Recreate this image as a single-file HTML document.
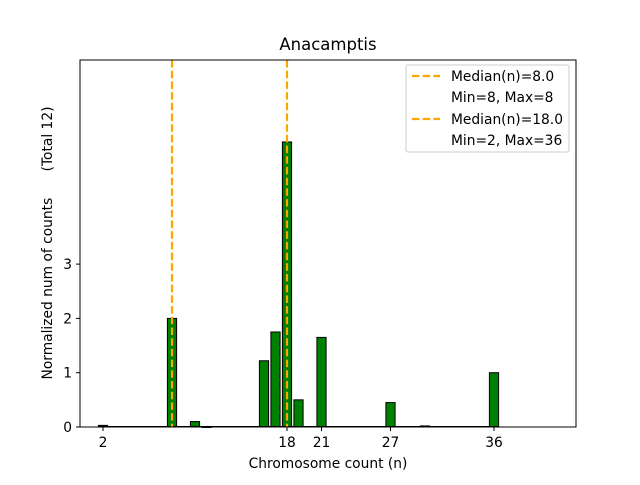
<!DOCTYPE html>
<html><head><meta charset="utf-8"><style>
body{margin:0;background:#fff}
svg text{font-family:"DejaVu Sans","Liberation Sans",sans-serif;}
</style></head><body>
<svg id="c" width="640" height="480" xmlns="http://www.w3.org/2000/svg">
<rect width="640" height="480" fill="#fff"/>
<text x="328" y="50" font-size="16.5" text-anchor="middle">Anacamptis</text>
<g id="bars"></g>
<g id="medians"></g>
<rect x="80" y="60" width="496" height="367" fill="none" stroke="#000" stroke-width="1"/>
<g id="xt"></g>
<g id="yt"></g>
<text x="328" y="468" font-size="13.8" text-anchor="middle">Chromosome count (n)</text>
<text transform="translate(52,243) rotate(-90)" font-size="13.8" text-anchor="middle" style="white-space:pre">Normalized num of counts      (Total 12)</text>
<g>
<rect x="406" y="65" width="163" height="87" fill="#fff" stroke="#ccc" rx="2"/>
<line x1="412" y1="76" x2="440" y2="76" stroke="#ffa500" stroke-width="2.2" stroke-dasharray="7.5,3.2"/>
<text x="451" y="81" font-size="13.8">Median(n)=8.0</text>
<text x="451" y="102" font-size="13.8">Min=8, Max=8</text>
<line x1="412" y1="119" x2="440" y2="119" stroke="#ffa500" stroke-width="2.2" stroke-dasharray="7.5,3.2"/>
<text x="451" y="124" font-size="13.8">Median(n)=18.0</text>
<text x="451" y="145" font-size="13.8">Min=2, Max=36</text>
</g>
</svg>
<script>
const binN=[2,3,4,5,6,7,8,9,10,11,12,13,14,15,16,17,18,19,20,21,22,23,24,25,26,27,28,29,30,31,32,33,34,35,36];
const binVals=[0.03,0,0,0,0,0,2,0,0.1,0.01,0,0,0,0,1.22,1.75,5.25,0.5,0,1.65,0,0,0,0,0,0.45,0,0,0.02,0,0,0,0,0,1.0];
const xTicks=[2,18,21,27,36];
const yTicks=[0,1,2,3];
const medians=[8,18];
const NS="http://www.w3.org/2000/svg";
const xs=v=>103+(v-2)*11.5;
const ys=v=>427-v*54.3;
const bars=document.getElementById('bars');
binN.forEach((n,i)=>{
 if(binVals[i]<=0)return;
 const r=document.createElementNS(NS,'rect');
 
 
 const y=ys(binVals[i]);
 r.setAttribute('x',xs(n)-4.6);r.setAttribute('width',9.2);
 r.setAttribute('y',y);r.setAttribute('height',Math.max(427-y,1));
 r.setAttribute('fill','#008000');r.setAttribute('stroke','#000');r.setAttribute('stroke-width','1');
 bars.appendChild(r);
});
const base=document.createElementNS(NS,'line');


base.setAttribute('x1',xs(2)-4.6);base.setAttribute('x2',xs(36)+4.6);base.setAttribute('y1',426.5);base.setAttribute('y2',426.5);base.setAttribute('stroke','#000');
bars.appendChild(base);
const md=document.getElementById('medians');
medians.forEach(m=>{
 const l=document.createElementNS(NS,'line');
 
 
 l.setAttribute('x1',xs(m));l.setAttribute('x2',xs(m));l.setAttribute('y1',60);l.setAttribute('y2',427);
 l.setAttribute('stroke','#ffa500');l.setAttribute('stroke-width','2.2');l.setAttribute('stroke-dasharray','7.5,3.2');
 md.appendChild(l);
});
const xt=document.getElementById('xt');
xTicks.forEach(t=>{
 const l=document.createElementNS(NS,'line');
 
 
 l.setAttribute('x1',xs(t));l.setAttribute('x2',xs(t));l.setAttribute('y1',427);l.setAttribute('y2',431);l.setAttribute('stroke','#000');
 xt.appendChild(l);
 const tx=document.createElementNS(NS,'text');
 
 
 tx.setAttribute('x',xs(t));tx.setAttribute('y',447);tx.setAttribute('font-size','13.8');tx.setAttribute('text-anchor','middle');
 tx.textContent=t;xt.appendChild(tx);
});
const yt=document.getElementById('yt');
yTicks.forEach(t=>{
 const l=document.createElementNS(NS,'line');
 
 
 l.setAttribute('x1',76);l.setAttribute('x2',80);l.setAttribute('y1',ys(t));l.setAttribute('y2',ys(t));l.setAttribute('stroke','#000');
 yt.appendChild(l);
 const tx=document.createElementNS(NS,'text');
 
 
 tx.setAttribute('x',72);tx.setAttribute('y',ys(t)+5);tx.setAttribute('font-size','13.8');tx.setAttribute('text-anchor','end');
 tx.textContent=t;yt.appendChild(tx);
});
</script>
</body></html>
